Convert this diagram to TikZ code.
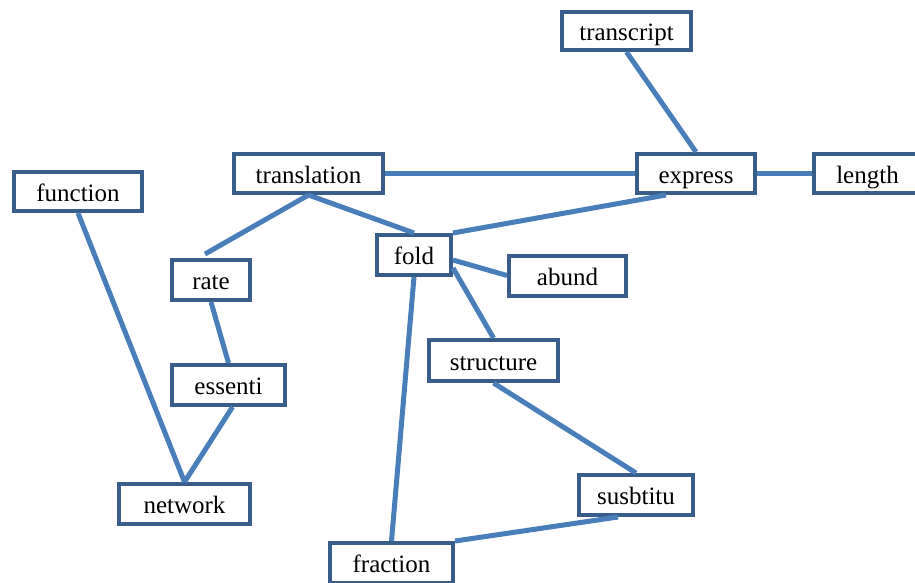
\documentclass[tikz,border=0pt]{standalone}
\usepackage{fontspec}
\setmainfont{Liberation Serif}
\definecolor{boxblue}{RGB}{56,93,138}
\definecolor{lineblue}{RGB}{74,126,187}
\begin{document}
\begin{tikzpicture}[x=1pt,y=-1pt,
  box/.style={draw=boxblue,line width=4pt,fill=white,inner sep=0pt,
    font=\fontsize{25}{30}\selectfont,anchor=center,text height=19pt,text depth=0pt},
  link/.style={draw=lineblue,line width=5pt}]
\useasboundingbox (0,0) rectangle (915,582);
\clip (0,0) rectangle (915,582);
\node[box,minimum width=129pt,minimum height=38pt] (transcript) at (626.5,31) {transcript};
\node[box,minimum width=149pt,minimum height=39pt] (translation) at (308.5,173.5) {translation};
\node[box,minimum width=118pt,minimum height=39pt] (express) at (696,173.5) {express};
\node[box,minimum width=107pt,minimum height=39pt] (length) at (867.5,173.5) {length};
\node[box,minimum width=128pt,minimum height=39pt] (function) at (78,191.5) {function};
\node[box,minimum width=74pt,minimum height=40pt] (fold) at (414,255) {fold};
\node[box,minimum width=117pt,minimum height=40pt] (abund) at (567.5,275.5) {abund};
\node[box,minimum width=78pt,minimum height=40pt] (rate) at (211,280) {rate};
\node[box,minimum width=129pt,minimum height=41pt] (structure) at (493.5,360.5) {structure};
\node[box,minimum width=113pt,minimum height=40pt] (essenti) at (228.5,385) {essenti};
\node[box,minimum width=131pt,minimum height=40pt] (network) at (184.5,504) {network};
\node[box,minimum width=114pt,minimum height=40pt] (susbtitu) at (636,495) {susbtitu};
\node[box,minimum width=123pt,minimum height=40pt] (fraction) at (391.5,563) {fraction};
\draw[link] (transcript.south) -- (express.north);
\draw[link] (translation.east) -- (express.west);
\draw[link] (express.east) -- (length.west);
\draw[link] ([xshift=-30pt]express.south) -- (fold.north east);
\draw[link] (translation.south) -- ([xshift=-6pt,yshift=4pt]rate.north);
\draw[link] (translation.south) -- (fold.north);
\draw[link] ([yshift=-5pt]fold.east) -- (abund.west);
\draw[link] ([yshift=-13pt]fold.east) -- (structure.north);
\draw[link] (fold.south) -- (fraction.north);
\draw[link] (structure.south) -- (susbtitu.north);
\draw[link] ([xshift=-18pt]susbtitu.south) -- (fraction.north east);
\draw[link] (function.south) -- (network.north);
\draw[link] (rate.south) -- (essenti.north);
\draw[link] ([xshift=4pt]essenti.south) -- (network.north);
\end{tikzpicture}
\end{document}
